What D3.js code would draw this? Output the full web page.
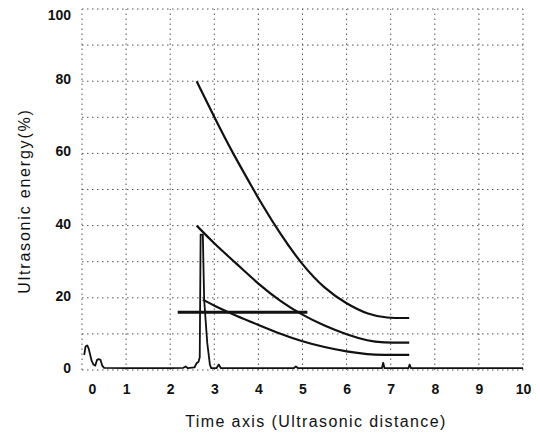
<!DOCTYPE html>
<html><head><meta charset="utf-8">
<script src="https://cdn.jsdelivr.net/npm/d3@7"></script>
<style>body{margin:0;background:#fff}svg{display:block}</style>
</head><body><svg id="c" width="540" height="435"></svg>
<script>
// ---- data ----
const xTicks = [0,1,2,3,4,5,6,7,8,9,10];
const yTicks = [0,20,40,60,80,100];
const yGrid = [0,10,20,30,40,50,60,70,80,90,100];
const curveTop = [[2.6,80],[3.0,70],[3.42,60],[3.89,50],[4.0,47.5],[4.5,37.5],[5.0,29],[5.5,22.5],[6.0,18.3],[6.5,15.3],[6.9,14.4],[7.42,14.4]];
const curveMid = [[2.6,40],[3.0,35],[3.5,29.5],[4.0,23.8],[4.5,19],[5.0,15.2],[5.5,12.2],[6.0,9.8],[6.5,8.0],[6.8,7.6],[7.42,7.6]];
const curveLow = [[2.74,19.5],[3.0,17.8],[3.5,15.0],[4.0,12.5],[4.5,10.0],[5.0,7.9],[5.5,6.3],[6.0,5.1],[6.5,4.3],[6.8,4.2],[7.42,4.2]];
const gateLine = [[2.17,16],[5.11,16]];
const echo = [[0.05,4.2],[0.08,6.5],[0.12,6.8],[0.15,6],[0.18,4.5],[0.22,2.5],[0.26,1.5],[0.3,1.2],[0.34,2.8],[0.38,3],[0.42,2.8],[0.46,1.2],[0.5,0.6],[1,0.5],[1.5,0.5],[2,0.5],[2.3,0.6],[2.35,1],[2.4,0.5],[2.55,0.7],[2.6,1.9],[2.64,2.2],[2.67,3.5],[2.69,37.5],[2.74,37.5],[2.77,19.5],[2.84,7.5],[2.9,1.5],[2.93,0.5],[3.05,0.5],[3.1,1.5],[3.15,0.5],[4.8,0.5],[4.85,1],[4.9,0.5],[6.8,0.5],[6.83,2],[6.86,0.5],[7.4,0.5],[7.43,1.5],[7.46,0.5],[10,0.5]];

const svg = d3.select('#c');
const x = d3.scaleLinear().domain([0,10]).range([82,523]);
const y = d3.scaleLinear().domain([0,100]).range([370,9]);

// grid
const g = svg.append('g');
g.selectAll('.hg').data(yGrid).enter().append('line')
  .attr('x1',x(0)).attr('x2',x(10)).attr('y1',d=>y(d)).attr('y2',d=>y(d))
  .attr('stroke','#555').attr('stroke-width',1).attr('stroke-dasharray','1.5,3.5');
g.selectAll('.vg').data(xTicks).enter().append('line')
  .attr('y1',y(0)).attr('y2',y(100)).attr('x1',d=>x(d)).attr('x2',d=>x(d))
  .attr('stroke','#555').attr('stroke-width',1).attr('stroke-dasharray','1.5,3.5');

// axes labels
const yAx = svg.append('g').attr('transform','translate(71,0)')
  .call(d3.axisLeft(y).tickValues(yTicks).tickSize(0).tickPadding(0));
yAx.select('.domain').remove();
yAx.selectAll('text').attr('dy','0.32em').attr('transform',d=>d===100?'translate(0,6)':'translate(0,-2)');
const xAx = svg.append('g').attr('transform','translate(0,384)')
  .call(d3.axisBottom(x).tickValues(xTicks).tickSize(0).tickPadding(0));
xAx.select('.domain').remove();
xAx.selectAll('text').attr('dy','0.71em').attr('dx',d=>d===0?10:0);
svg.selectAll('.tick text').style('font-family','"Liberation Sans", Arial, sans-serif')
  .style('font-size','14px').style('font-weight','bold').attr('fill','#111');

// lines
const line = d3.line().x(d=>x(d[0])).y(d=>y(d[1]));
const sm = d3.line().x(d=>x(d[0])).y(d=>y(d[1])).curve(d3.curveBasis);
svg.append('path').attr('d',line(echo)).attr('fill','none').attr('stroke','#111').attr('stroke-width',1.8).attr('stroke-linejoin','round');
[curveTop,curveMid,curveLow].forEach(c=>{
  svg.append('path').attr('d',sm(c)).attr('fill','none').attr('stroke','#111').attr('stroke-width',2.2);
});
svg.append('path').attr('d',line(gateLine)).attr('fill','none').attr('stroke','#111').attr('stroke-width',3);

// titles
svg.append('text').attr('x',316).attr('y',427).attr('text-anchor','middle')
  .style('font-family','"Liberation Sans", Arial, sans-serif').style('font-size','16px')
  .style('letter-spacing','1.4px').attr('fill','#111').text('Time axis (Ultrasonic distance)');
svg.append('text').attr('transform','translate(30,201) rotate(-90)').attr('text-anchor','middle')
  .style('font-family','"Liberation Sans", Arial, sans-serif').style('font-size','16px')
  .style('letter-spacing','1.8px').attr('fill','#111').text('Ultrasonic energy(%)');
</script></body></html>
